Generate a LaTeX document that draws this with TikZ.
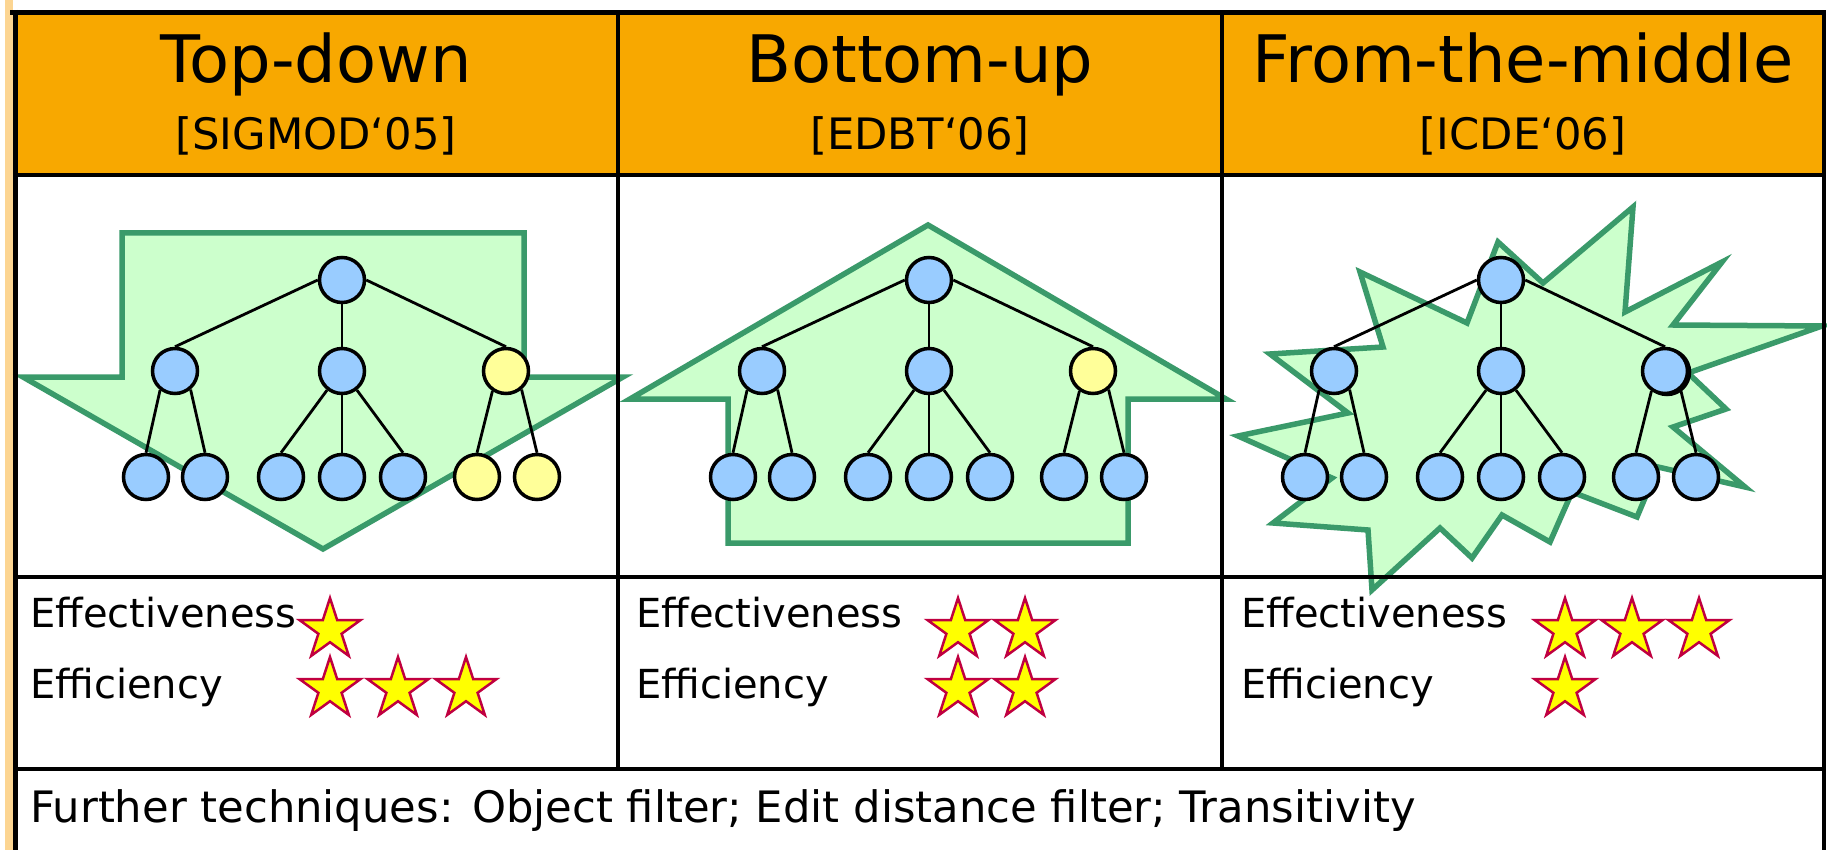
\documentclass[tikz,border=0pt]{standalone}
\usepackage{fontspec}
\newfontfamily\dejavu{DejaVu Sans}
\usetikzlibrary{shapes.geometric}

\definecolor{hdrorange}{HTML}{F8A800}
\definecolor{edgeorange}{HTML}{FCD592}
\definecolor{arrowfill}{HTML}{CCFFCC}
\definecolor{arrowline}{HTML}{3A9A6A}
\definecolor{nodeblue}{HTML}{99CCFF}
\definecolor{nodeyellow}{HTML}{FFFF99}
\definecolor{starfill}{HTML}{FFFF00}
\definecolor{starline}{HTML}{C00040}

\tikzset{
  gridline/.style={line width=3.5pt, black},
  framebold/.style={line width=5pt, black},
  regionshape/.style={draw=arrowline, fill=arrowfill, line width=5.5pt, line join=miter},
  tnode/.style={circle, draw=black, line width=3.5pt, minimum size=45pt, inner sep=0pt},
  tedge/.style={line width=2.8pt, black},
  ratestar/.style={star, star points=5, star point ratio=2.618, minimum size=64pt,
    inner sep=0pt, draw=starline, fill=starfill, line width=2.5pt, line join=miter},
  colhead/.style={font=\dejavu\fontsize{65.5}{72}\selectfont, anchor=base, inner sep=0pt},
  colref/.style={font=\dejavu\fontsize{43.3}{48}\selectfont, anchor=base, inner sep=0pt},
  measure/.style={font=\dejavu\fontsize{40}{44}\selectfont, anchor=base west, inner sep=0pt},
  footnote/.style={font=\dejavu\fontsize{43.3}{48}\selectfont, anchor=base west, inner sep=0pt},
}

% hierarchy: #1 name prefix, #2 horizontal offset,
% #3 colour of the right inner node, #4 colour of its two leaves
\newcommand\hiertree[4]{%
  \begin{scope}[shift={(#2,0)}]
    \node[tnode, fill=nodeblue] (#1r) at (342,280) {};
    \node[tnode, fill=nodeblue] (#1a) at (175,371) {};
    \node[tnode, fill=nodeblue] (#1b) at (342,371) {};
    \node[tnode, fill=#3] (#1c) at (506,371) {};
    \node[tnode, fill=nodeblue] (#1a1) at (146,477) {};
    \node[tnode, fill=nodeblue] (#1a2) at (205,477) {};
    \node[tnode, fill=nodeblue] (#1b1) at (281,477) {};
    \node[tnode, fill=nodeblue] (#1b2) at (342,477) {};
    \node[tnode, fill=nodeblue] (#1b3) at (403,477) {};
    \node[tnode, fill=#4] (#1c1) at (477,477) {};
    \node[tnode, fill=#4] (#1c2) at (537,477) {};
    \draw[tedge] (#1r.west) -- (#1a.north);
    \draw[tedge] (#1r.south) -- (#1b.north);
    \draw[tedge] (#1r.east) -- (#1c.north);
    \draw[tedge] (#1a.232) -- (#1a1.north);
    \draw[tedge] (#1a.310) -- (#1a2.north);
    \draw[tedge] (#1b.232) -- (#1b1.north);
    \draw[tedge] (#1b.south) -- (#1b2.north);
    \draw[tedge] (#1b.308) -- (#1b3.north);
    \draw[tedge] (#1c.236) -- (#1c1.north);
    \draw[tedge] (#1c.310) -- (#1c2.north);
  \end{scope}}

\begin{document}
\begin{tikzpicture}[x=1pt, y=-1pt]
\useasboundingbox (0,0) rectangle (1827,850);
\fill[white] (0,0) rectangle (1827,850);
\fill[edgeorange] (5,0) rectangle (12.5,850);
\fill[hdrorange] (15,12.5) rectangle (1824,175);

% downward block arrow
\draw[regionshape] (122,233) -- (524,233) -- (524,377) -- (623,377)
  -- (323,549) -- (23,377) -- (122,377) -- cycle;
% upward block arrow
\draw[regionshape] (928,225) -- (1226,399) -- (1128,399) -- (1128,543)
  -- (728,543) -- (728,399) -- (630,399) -- cycle;
% burst
\draw[regionshape] (1498,242) -- (1543,283) -- (1633,207) -- (1625,312)
  -- (1722,262) -- (1673,325) -- (1822,326) -- (1688,373) -- (1726,409)
  -- (1673,427) -- (1745,487) -- (1658,467) -- (1637,517) -- (1572,492)
  -- (1550,542) -- (1502,515) -- (1472,558) -- (1440,528) -- (1372,590)
  -- (1368,530) -- (1273,523) -- (1332,478) -- (1238,436) -- (1348,413)
  -- (1270,354) -- (1383,347) -- (1360,272) -- (1467,323) -- cycle;

% hierarchies
\hiertree{td}{0}{nodeyellow}{nodeyellow}
\hiertree{bu}{587}{nodeyellow}{nodeblue}
\node[tnode, fill=nodeyellow] (mcold) at (1667,372) {};
\hiertree{fm}{1159}{nodeblue}{nodeblue}

% headings
\node[colhead] (h1) at (316,83) {Top-down};
\node[colref] (r1) at (316,150) {[SIGMOD‘05]};
\node[colhead] (h2) at (920,83) {Bottom-up};
\node[colref] (r2) at (920,150) {[EDBT‘06]};
\node[colhead] (h3) at (1523,83) {From-the-middle};
\node[colref] (r3) at (1523,150) {[ICDE‘06]};

% ratings
\node[measure] (e1) at (30,627) {Effectiveness};
\node[measure] (f1) at (30,698) {Efficiency};
\node[measure] (e2) at (636,627) {Effectiveness};
\node[measure] (f2) at (636,698) {Efficiency};
\node[measure] (e3) at (1241,627) {Effectiveness};
\node[measure] (f3) at (1241,698) {Efficiency};

\node[ratestar] (s1a) at (330,630) {};
\node[ratestar] (s1b) at (330,689) {};
\node[ratestar] (s1c) at (398,689) {};
\node[ratestar] (s1d) at (466,689) {};
\node[ratestar] (s2a) at (958,630) {};
\node[ratestar] (s2b) at (1025,630) {};
\node[ratestar] (s2c) at (958,689) {};
\node[ratestar] (s2d) at (1025,689) {};
\node[ratestar] (s3a) at (1565,630) {};
\node[ratestar] (s3b) at (1632,630) {};
\node[ratestar] (s3c) at (1699,630) {};
\node[ratestar] (s3d) at (1565,689) {};

\node[footnote] (ft) at (30,822) {Further techniques: Object filter; Edit distance filter; Transitivity};

% table rules
\draw[gridline] (15,175) -- (1824,175);
\draw[gridline] (15,577) -- (1824,577);
\draw[gridline] (15,769) -- (1824,769);
\draw[gridline] (618,12.5) -- (618,769);
\draw[gridline] (1222,12.5) -- (1222,769);
\draw[gridline] (1824,12.5) -- (1824,850);
\draw[framebold] (10,12.5) -- (1826,12.5);
\draw[framebold] (15,10) -- (15,850);
\end{tikzpicture}
\end{document}
